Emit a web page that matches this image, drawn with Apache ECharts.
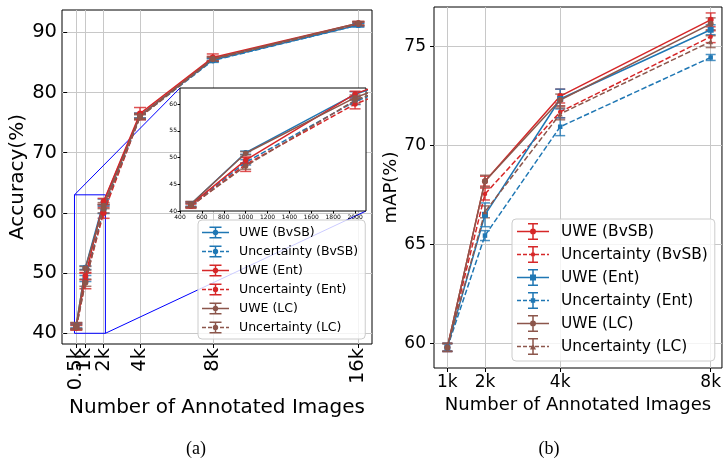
<!DOCTYPE html>
<html>
<head>
<meta charset="utf-8">
<script src="https://cdn.jsdelivr.net/npm/echarts@6/dist/echarts.min.js"></script>
<style>
  html, body { margin: 0; padding: 0; background: #fff; }
  #main { width: 724px; height: 460px; }
</style>
</head>
<body>
<div id="main"></div>
<script>
// ---- panel (a): accuracy vs number of annotated images (in k) ----
var sizesA = [0.5, 1, 2, 4, 8, 16];
var tickLabelsA = ['0.5k', '1k', '2k', '4k', '8k', '16k'];
var yTicksA = [40, 50, 60, 70, 80, 90];
var aUweBvsb = [41.3, 50.9, 61.8, 76.2, 85.4, 91.2];
var aUweBvsbErr = [0.4, 0.3, 0.5, 0.4, 0.3, 0.3];
var aUncBvsb = [41.1, 49.1, 60.5, 76.0, 85.3, 91.2];
var aUncBvsbErr = [0.4, 0.5, 0.6, 0.4, 0.3, 0.3];
var aUweEnt = [41.2, 49.5, 61.9, 76.5, 85.8, 91.5];
var aUweEntErr = [0.5, 0.6, 0.5, 1.0, 0.6, 0.3];
var aUncEnt = [40.9, 48.7, 60.0, 76.0, 85.6, 91.4];
var aUncEntErr = [0.4, 1.3, 0.9, 0.5, 0.4, 0.3];
var aUweLc = [41.3, 50.8, 61.2, 76.1, 85.6, 91.5];
var aUweLcErr = [0.5, 0.3, 0.5, 0.4, 0.3, 0.3];
var aUncLc = [41.0, 48.4, 60.7, 75.9, 85.5, 91.4];
var aUncLcErr = [0.4, 0.6, 0.7, 0.4, 0.3, 0.3];

// ---- panel (b): mAP vs number of annotated images (in k) ----
var sizesB = [1, 2, 4, 8];
var tickLabelsB = ['1k', '2k', '4k', '8k'];
var yTicksB = [60, 65, 70, 75];
var bUweBvsb = [59.8, 68.2, 72.5, 76.35];
var bUweBvsbErr = [0.2, 0.25, 0.35, 0.35];
var bUncBvsb = [59.8, 67.55, 71.7, 75.5];
var bUncBvsbErr = [0.2, 0.3, 0.3, 0.3];
var bUweEnt = [59.8, 66.5, 72.35, 75.85];
var bUweEntErr = [0.2, 0.6, 0.5, 0.25];
var bUncEnt = [59.8, 65.45, 70.95, 74.45];
var bUncEntErr = [0.2, 0.25, 0.45, 0.15];
var bUweLc = [59.8, 68.2, 72.3, 76.15];
var bUweLcErr = [0.2, 0.3, 0.3, 0.3];
var bUncLc = [59.8, 66.65, 71.6, 75.25];
var bUncLcErr = [0.2, 0.3, 0.3, 0.3];

var names = ['UWE (BvSB)', 'Uncertainty (BvSB)', 'UWE (Ent)', 'Uncertainty (Ent)', 'UWE (LC)', 'Uncertainty (LC)'];

var BLUE = '#1f77b4', RED = '#d62728', BROWN = '#8c564b';
var FONT = 'DejaVu Sans';
var GRIDLINE = { color: '#c8c8c8', width: 1 };

function lineSeries(name, xs, ys, color, dashed, symbol, symSize, idx, z) {
  return {
    name: name, type: 'line', xAxisIndex: idx, yAxisIndex: idx, z: z,
    data: xs.map(function (x, i) { return [x, ys[i]]; }),
    symbol: symbol, symbolSize: symSize, showSymbol: true,
    itemStyle: { color: color },
    lineStyle: { color: color, width: 1.5, type: dashed ? [5.5, 2.4] : 'solid' },
    clip: true, animation: false, silent: true
  };
}

function errSeries(xs, ys, es, color, capW, idx, z) {
  return {
    type: 'custom', xAxisIndex: idx, yAxisIndex: idx, z: z, clip: true, silent: true,
    animation: false,
    data: xs.map(function (x, i) { return [x, ys[i], es[i]]; }),
    renderItem: function (params, api) {
      var x = api.value(0), y = api.value(1), e = api.value(2);
      var hi = api.coord([x, y + e]), lo = api.coord([x, y - e]);
      var st = { stroke: color, lineWidth: 1.5, opacity: 0.8 };
      return {
        type: 'group', children: [
          { type: 'line', shape: { x1: hi[0], y1: hi[1], x2: lo[0], y2: lo[1] }, style: st },
          { type: 'line', shape: { x1: hi[0] - capW / 2, y1: hi[1], x2: hi[0] + capW / 2, y2: hi[1] }, style: st },
          { type: 'line', shape: { x1: lo[0] - capW / 2, y1: lo[1], x2: lo[0] + capW / 2, y2: lo[1] }, style: st }
        ]
      };
    }
  };
}

// legend icon: line (solid or dashed) + error bar + marker, as one filled path
function box(x, y, w, h) { return 'M' + x + ',' + y + 'h' + w + 'v' + h + 'h' + (-w) + 'z'; }
function makeIcon(w, h, capW, dashed, marker, ms) {
  var t = 1.5, cx = w / 2, cy = h / 2, d = '';
  if (dashed) {
    for (var x = 0; x < w; x += 6) d += box(x, cy - t / 2, Math.min(4, w - x), t);
  } else {
    d += box(0, cy - t / 2, w, t);
  }
  d += box(cx - t / 2, 0, t, h);
  d += box(cx - capW / 2, 0, capW, t) + box(cx - capW / 2, h - t, capW, t);
  if (marker === 'circle') {
    d += 'M' + (cx - ms) + ',' + cy + 'a' + ms + ',' + ms + ' 0 1,1 ' + (2 * ms) + ',0' +
         'a' + ms + ',' + ms + ' 0 1,1 ' + (-2 * ms) + ',0z';
  } else if (marker === 'rect') {
    d += box(cx - ms, cy - ms, 2 * ms, 2 * ms);
  } else {
    d += 'M' + cx + ',' + (cy - ms) + 'L' + (cx + ms) + ',' + (cy + ms) + 'L' + (cx - ms) + ',' + (cy + ms) + 'z';
  }
  return 'path://' + d;
}

var colorsA = [BLUE, BLUE, RED, RED, BROWN, BROWN];
var colorsB = [RED, RED, BLUE, BLUE, BROWN, BROWN];
var dashed = [false, true, false, true, false, true];
var valsA = [aUweBvsb, aUncBvsb, aUweEnt, aUncEnt, aUweLc, aUncLc];
var errsA = [aUweBvsbErr, aUncBvsbErr, aUweEntErr, aUncEntErr, aUweLcErr, aUncLcErr];
var valsB = [bUweBvsb, bUncBvsb, bUweEnt, bUncEnt, bUweLc, bUncLc];
var errsB = [bUweBvsbErr, bUncBvsbErr, bUweEntErr, bUncEntErr, bUweLcErr, bUncLcErr];
var markersB = ['circle', 'circle', 'rect', 'rect', 'circle', 'triangle'];
var markSizeB = [6, 4.5, 6, 4.5, 6, 5];

var series = [];
var countsA = sizesA.map(function (s) { return s * 1000; });
for (var i = 0; i < 6; i++) {
  // main panel (a)
  series.push(errSeries(sizesA, valsA[i], errsA[i], colorsA[i], 12, 0, 2));
  series.push(lineSeries(names[i], sizesA, valsA[i], colorsA[i], dashed[i], 'circle', 6, 0, 2));
  // zoomed inset of (a)
  series.push(errSeries(countsA, valsA[i], errsA[i], colorsA[i], 11, 2, 5));
  series.push(lineSeries(names[i], countsA, valsA[i], colorsA[i], dashed[i], 'circle', 5.5, 2, 5));
  // panel (b)
  series.push(errSeries(sizesB, valsB[i], errsB[i], colorsB[i], 10, 1, 2));
  series.push(lineSeries(names[i], sizesB, valsB[i], colorsB[i], dashed[i], markersB[i], markSizeB[i], 1, 2));
}

var legendA = names.map(function (n, i) {
  return {
    name: n, icon: makeIcon(27, 12, 12, dashed[i], 'circle', 2.7),
    itemStyle: { color: colorsA[i], borderWidth: 0, opacity: 1 }
  };
});
var legendB = names.map(function (n, i) {
  var ms = markersB[i] === 'rect' ? (i === 3 ? 2.2 : 3) : (i === 1 ? 2.2 : 3);
  return {
    name: n, icon: makeIcon(32, 17, 10, dashed[i], markersB[i], ms),
    itemStyle: { color: colorsB[i], borderWidth: 0, opacity: 1 }
  };
});

function tickFmt(vals, labels) {
  return function (v) {
    for (var k = 0; k < vals.length; k++) if (Math.abs(vals[k] - v) < 1e-6) return labels[k];
    return '';
  };
}
function plainNum(v) { return String(v); }

// (a) tick labels are crowded at the left; "1k" goes on a second axis so none is dropped
var labelA = { rotate: 90, margin: 4, showMinLabel: true, showMaxLabel: true, hideOverlap: false,
               fontSize: 19.5, color: '#000', fontFamily: FONT, formatter: tickFmt(sizesA, tickLabelsA) };
var mainLabelsA = sizesA.filter(function (v) { return v !== 1; });
var crowdedLabelsA = [1];

var option = {
  animation: false,
  backgroundColor: '#fff',
  grid: [
    { left: 62, top: 10, width: 310, height: 334, show: true, borderColor: '#000', borderWidth: 1, backgroundColor: 'transparent' },
    { left: 434, top: 7, width: 289, height: 361, show: true, borderColor: '#000', borderWidth: 1, backgroundColor: 'transparent' },
    { left: 180, top: 88, width: 186, height: 123, show: false }
  ],
  xAxis: [
    {
      type: 'value', gridIndex: 0, min: -0.286, max: 16.75, position: 'bottom',
      axisLine: { show: false },
      axisTick: { show: true, length: 4, customValues: sizesA, lineStyle: { color: '#000' } },
      axisLabel: Object.assign({ customValues: mainLabelsA }, labelA),
      splitLine: { show: true, lineStyle: GRIDLINE },
      name: 'Number of Annotated Images', nameLocation: 'middle', nameGap: 48,
      nameTextStyle: { fontSize: 20, color: '#000', fontFamily: FONT }
    },
    {
      type: 'value', gridIndex: 1, min: 0.645, max: 8.3,
      axisLine: { show: false },
      axisTick: { show: true, length: 4, customValues: sizesB, lineStyle: { color: '#000' } },
      axisLabel: { customValues: sizesB, formatter: tickFmt(sizesB, tickLabelsB), margin: 6,
                   showMinLabel: true, showMaxLabel: true,
                   fontSize: 17, color: '#000', fontFamily: FONT },
      splitLine: { show: true, lineStyle: GRIDLINE },
      name: 'Number of Annotated Images', nameLocation: 'middle', nameGap: 21,
      nameTextStyle: { fontSize: 18, color: '#000', fontFamily: FONT }
    },
    {
      type: 'value', gridIndex: 2, min: 400, max: 2100, interval: 200, z: 6,
      axisLine: { show: false },
      axisTick: { show: true, length: 2.5, lineStyle: { color: '#000' } },
      axisLabel: { margin: 3, fontSize: 6, color: '#000', fontFamily: FONT, formatter: plainNum,
                   showMinLabel: true, showMaxLabel: false },
      splitLine: { show: false }
    },
    {
      type: 'value', gridIndex: 0, min: -0.286, max: 16.75, position: 'bottom', offset: 0,
      axisLine: { show: false }, axisTick: { show: false }, splitLine: { show: false },
      axisLabel: Object.assign({ customValues: crowdedLabelsA }, labelA)
    }
  ],
  yAxis: [
    {
      type: 'value', gridIndex: 0, min: 38.22, max: 93.7,
      axisLine: { show: false },
      axisTick: { show: true, length: 4, customValues: yTicksA, lineStyle: { color: '#000' } },
      axisLabel: { customValues: yTicksA, margin: 5, fontSize: 19.5, color: '#000', fontFamily: FONT },
      splitLine: { show: true, lineStyle: GRIDLINE },
      name: 'Accuracy(%)', nameLocation: 'middle', nameGap: 31,
      nameTextStyle: { fontSize: 20, color: '#000', fontFamily: FONT }
    },
    {
      type: 'value', gridIndex: 1, min: 58.76, max: 77.0,
      axisLine: { show: false },
      axisTick: { show: true, length: 4, customValues: yTicksB, lineStyle: { color: '#000' } },
      axisLabel: { customValues: yTicksB, margin: 8, fontSize: 17, color: '#000', fontFamily: FONT },
      splitLine: { show: true, lineStyle: GRIDLINE },
      name: 'mAP(%)', nameLocation: 'middle', nameGap: 29,
      nameTextStyle: { fontSize: 18, color: '#000', fontFamily: FONT }
    },
    {
      type: 'value', gridIndex: 2, min: 40, max: 63, interval: 5, z: 6,
      axisLine: { show: false },
      axisTick: { show: true, length: 2.5, lineStyle: { color: '#000' } },
      axisLabel: { margin: 3, fontSize: 6, color: '#000', fontFamily: FONT, formatter: plainNum,
                   showMinLabel: true, showMaxLabel: false },
      splitLine: { show: false }
    }
  ],
  legend: [
    {
      left: 198, top: 220, orient: 'vertical', selectedMode: false,
      itemWidth: 27, itemHeight: 12, itemGap: 6, padding: [6, 7, 5, 4],
      backgroundColor: 'rgba(255,255,255,0.8)', borderColor: '#cccccc', borderWidth: 1, borderRadius: 4,
      textStyle: { fontSize: 12.5, color: '#000', fontFamily: FONT, padding: [0, 0, 0, 5] },
      data: legendA
    },
    {
      left: 512, top: 219, orient: 'vertical', selectedMode: false,
      itemWidth: 32, itemHeight: 17, itemGap: 6, padding: [4, 7, 6, 5],
      backgroundColor: 'rgba(255,255,255,0.8)', borderColor: '#cccccc', borderWidth: 1, borderRadius: 4,
      textStyle: { fontSize: 15.4, color: '#000', fontFamily: FONT, padding: [0, 0, 0, 7] },
      data: legendB
    }
  ],
  series: series
};

var chart = echarts.init(document.getElementById('main'), null, { renderer: 'canvas' });
chart.setOption(option);

// inset box, zoom rectangle and connector lines
var insetTL = chart.convertToPixel({ gridIndex: 2 }, [400, 63]);
var insetBR = chart.convertToPixel({ gridIndex: 2 }, [2100, 40]);
var zoomTL = chart.convertToPixel({ gridIndex: 0 }, [0.4, 63]);
var zoomBR = chart.convertToPixel({ gridIndex: 0 }, [2.1, 40]);
var blue = { stroke: '#0000ff', lineWidth: 1, fill: null };

chart.setOption({
  graphic: { elements: [
    { type: 'rect', z: 3, shape: { x: insetTL[0], y: insetTL[1], width: insetBR[0] - insetTL[0], height: insetBR[1] - insetTL[1] },
      style: { fill: '#fff', stroke: '#000', lineWidth: 1 } },
    { type: 'rect', z: 1, shape: { x: zoomTL[0], y: zoomTL[1], width: zoomBR[0] - zoomTL[0], height: zoomBR[1] - zoomTL[1] },
      style: blue },
    { type: 'line', z: 1, shape: { x1: zoomTL[0], y1: zoomTL[1], x2: insetTL[0], y2: insetTL[1] }, style: blue },
    { type: 'line', z: 1, shape: { x1: zoomBR[0], y1: zoomBR[1], x2: insetBR[0], y2: insetBR[1] }, style: blue },
    { type: 'text', x: 196, y: 449, style: { text: '(a)', fontSize: 18, fontFamily: 'Liberation Serif', fill: '#000', align: 'center', verticalAlign: 'middle' } },
    { type: 'text', x: 549, y: 449, style: { text: '(b)', fontSize: 18, fontFamily: 'Liberation Serif', fill: '#000', align: 'center', verticalAlign: 'middle' } }
  ] }
});
</script>
</body>
</html>
